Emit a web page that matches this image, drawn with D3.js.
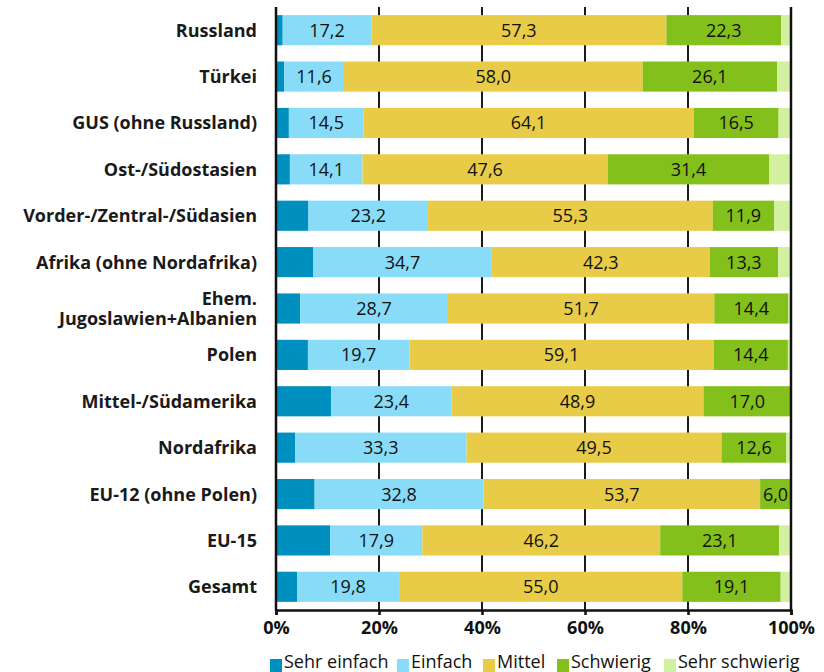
<!DOCTYPE html>
<html>
<head>
<meta charset="utf-8">
<script src="https://cdn.jsdelivr.net/npm/d3@7"></script>
<style>
  body { margin: 0; background: #fff; }
  svg { display: block; font-family: "Open Sans", "Noto Sans", sans-serif; }
</style>
</head>
<body>
<svg id="chart" width="824" height="672"></svg>
<script>
// data
const categorias = ['Russland', 'Türkei', 'GUS (ohne Russland)', 'Ost-/Südostasien',
  'Vorder-/Zentral-/Südasien', 'Afrika (ohne Nordafrika)', 'Ehem.\nJugoslawien+Albanien',
  'Polen', 'Mittel-/Südamerika', 'Nordafrika', 'EU-12 (ohne Polen)', 'EU-15', 'Gesamt'];
const sehrEinfach   = [1.3, 1.6, 2.5, 2.7, 6.3, 7.2, 4.7, 6.2, 10.7, 3.7, 7.5, 10.5, 4.1];
const einfach       = [17.2, 11.6, 14.5, 14.1, 23.2, 34.7, 28.7, 19.7, 23.4, 33.3, 32.8, 17.9, 19.8];
const mittel        = [57.3, 58.0, 64.1, 47.6, 55.3, 42.3, 51.7, 59.1, 48.9, 49.5, 53.7, 46.2, 55.0];
const schwierig     = [22.3, 26.1, 16.5, 31.4, 11.9, 13.3, 14.4, 14.4, 17.0, 12.6, 6.0, 23.1, 19.1];
const sehrSchwierig = [1.9, 2.7, 2.4, 4.2, 3.3, 2.5, 0.5, 0.6, 0.0, 0.9, 0.0, 2.3, 2.0];
const serien   = ['Sehr einfach', 'Einfach', 'Mittel', 'Schwierig', 'Sehr schwierig'];
const farben   = ['#0090c0', '#88dcf8', '#e8cc48', '#84c01c', '#d2f0a0'];
const ticksX   = [0, 20, 40, 60, 80, 100];
const mitLabel = [false, true, true, true, false];

const werte = [sehrEinfach, einfach, mittel, schwierig, sehrSchwierig];
const tabelle = categorias.map((c, i) => {
  const o = { cat: c };
  serien.forEach((s, k) => o[s] = werte[k][i]);
  return o;
});

const svg = d3.select('#chart');
const x0 = 276, x1 = 791, y0 = 7, y1 = 610;

const fx = d3.scaleLinear().domain([0, 100]).range([x0, x1]);
const fy = d3.scaleBand().domain(categorias).range([y0, y1]).paddingInner(0.35).paddingOuter(0.175);

// gridlines (behind bars)
svg.append('g').selectAll('line').data(ticksX.slice(1, -1)).join('line')
  .attr('x1', d => fx(d)).attr('x2', d => fx(d))
  .attr('y1', y0).attr('y2', y1)
  .attr('stroke', '#1a1a1a').attr('stroke-width', 2);

const stack = d3.stack().keys(serien)(tabelle);

const gSerie = svg.append('g').selectAll('g').data(stack).join('g')
  .attr('fill', (d, i) => farben[i]);

gSerie.selectAll('rect').data(d => d).join('rect')
  .attr('x', d => fx(d[0]))
  .attr('width', d => Math.max(0, fx(d[1]) - fx(d[0])))
  .attr('y', d => fy(d.data.cat))
  .attr('height', fy.bandwidth());

// value labels
svg.append('g').selectAll('g').data(stack.filter((s, i) => mitLabel[i])).join('g')
  .selectAll('text').data(d => d).join('text')
  .attr('x', d => (fx(d[0]) + fx(d[1])) / 2)
  .attr('y', d => fy(d.data.cat) + fy.bandwidth() / 2)
  .attr('dy', '0.36em')
  .attr('text-anchor', 'middle')
  .attr('font-size', 18)
  .attr('fill', '#111')
  .text(d => d3.format('.1f')(d[1] - d[0]).replace('.', ','));

// axes lines
svg.append('line').attr('x1', x0).attr('x2', x0).attr('y1', y0).attr('y2', y1 + 1)
  .attr('stroke', '#111').attr('stroke-width', 2.5);
svg.append('line').attr('x1', x1).attr('x2', x1).attr('y1', y0).attr('y2', y1 + 1)
  .attr('stroke', '#111').attr('stroke-width', 2.5);

const xAxis = d3.axisBottom(fx).tickValues(ticksX).tickSize(5).tickFormat(d => d + '%');
const gx = svg.append('g').attr('transform', `translate(0,${y1})`).call(xAxis);
gx.select('.domain').attr('stroke', '#111').attr('stroke-width', 2.5);
gx.selectAll('.tick line').attr('stroke', '#111').attr('stroke-width', 2.5);
gx.selectAll('.tick text').attr('font-size', 18).attr('font-weight', 'bold')
  .attr('fill', '#111').attr('y', 11).attr('font-family', '"Open Sans", sans-serif');

// category labels
const lab = svg.append('g').selectAll('text').data(categorias).join('text')
  .attr('text-anchor', 'end')
  .attr('font-size', 18)
  .attr('font-weight', 'bold')
  .attr('fill', '#1a1a1a');
lab.each(function (d) {
  const zeilen = d.split('\n');
  const t = d3.select(this);
  const yc = fy(d) + fy.bandwidth() / 2;
  zeilen.forEach((z, j) => {
    t.append('tspan').attr('x', 257)
      .attr('y', yc + (j - (zeilen.length - 1) / 2) * 20)
      .attr('dy', '0.36em').text(z);
  });
});

// legend
const legX = [270, 397, 483, 557, 664];
const leg = svg.append('g').selectAll('g').data(serien).join('g')
  .attr('transform', (d, i) => `translate(${legX[i]},659)`);
leg.append('rect').attr('width', 12).attr('height', 13).attr('fill', (d, i) => farben[i]);
leg.append('text').attr('x', 14).attr('y', 9).attr('font-size', 18).attr('fill', '#111').text(d => d);
</script>
</body>
</html>
